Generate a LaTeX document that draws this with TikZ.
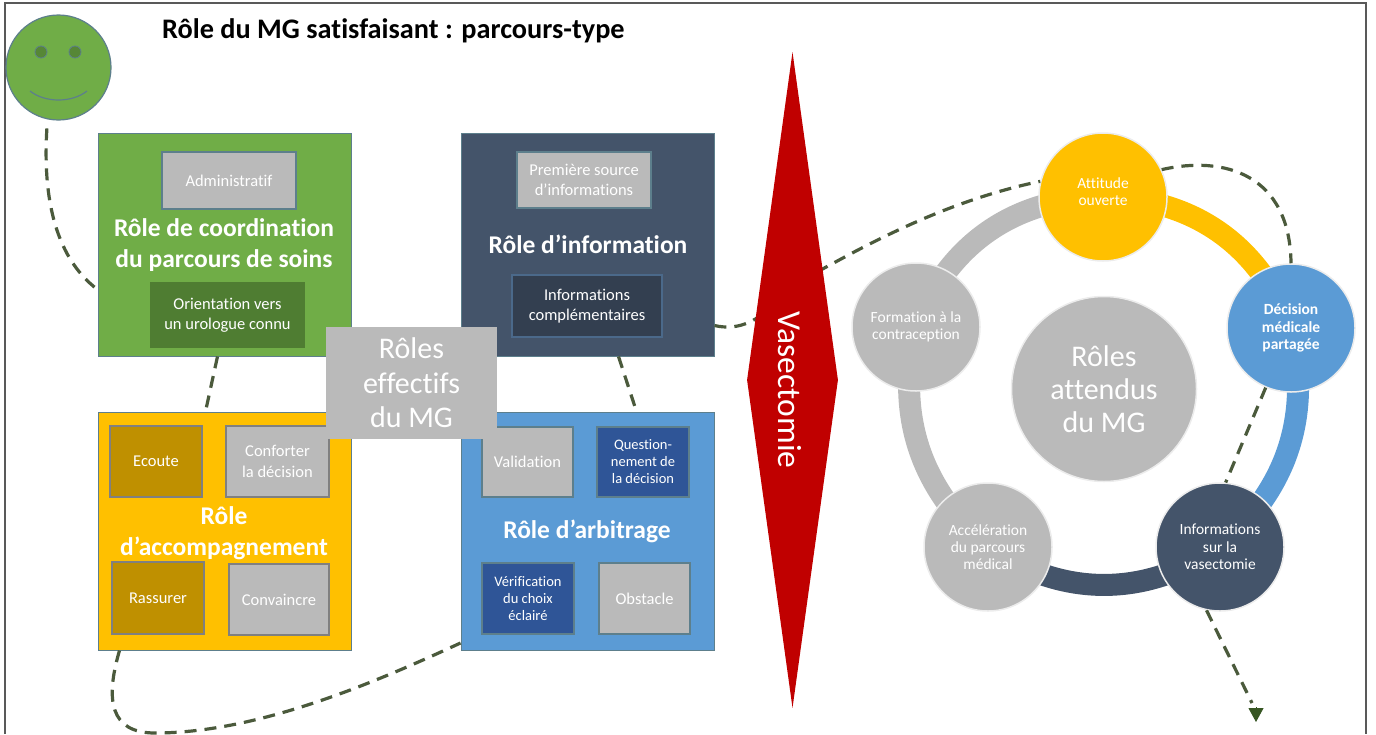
\documentclass[tikz,border=0pt]{standalone}
\usepackage{fontspec}
\setmainfont[RawFeature={-liga}]{Carlito}
\usetikzlibrary{shapes.geometric,arrows.meta,calc,backgrounds}
\definecolor{cgreen}{HTML}{70AD47}
\definecolor{cdgreen}{HTML}{4F7D32}
\definecolor{cnavy}{HTML}{44546A}
\definecolor{cdnavy}{HTML}{333F50}
\definecolor{cyell}{HTML}{FFC000}
\definecolor{cdyell}{HTML}{BF9000}
\definecolor{cblue}{HTML}{5B9BD5}
\definecolor{cdblue}{HTML}{2F5597}
\definecolor{cgrey}{HTML}{BABABA}
\definecolor{cred}{HTML}{C00000}
\definecolor{cdash}{HTML}{4B5A3C}
\definecolor{cedge}{HTML}{5D7F8C}
\definecolor{ctip}{HTML}{375623}
\tikzset{
  x=1pt,y=-1pt,
  base/.style={align=center,inner sep=0pt,text=white,rectangle},
  bigbox/.style={base,draw=cedge,line width=1pt},
  inbox/.style={base,draw=cedge,line width=1.2pt,font=\fontsize{16.5}{20.5}\selectfont},
  smallbox/.style={base,draw=cedge,line width=1.2pt,font=\fontsize{14.5}{17}\selectfont},
  role/.style={inner sep=0pt,align=center,text=white,font=\bfseries\fontsize{25.5}{31}\selectfont},
  disc/.style={circle,inner sep=0pt,minimum size=128pt,draw=white!85!gray,line width=1.5pt,align=center,text=white,font=\fontsize{15.5}{17.3}\selectfont},
  ringarc/.style={line width=22pt},
  link/.style={draw=cdash,line width=3.2pt,dash pattern=on 12pt off 8pt},
}
\newcommand{\rbox}[7]{%
  \pgfmathsetmacro{\bw}{#4-#2}\pgfmathsetmacro{\bh}{#5-#3}%
  \pgfmathsetmacro{\bx}{(#2+#4)/2}\pgfmathsetmacro{\by}{(#3+#5)/2}%
  \node[#6,minimum width=\bw pt,minimum height=\bh pt] (#1) at (\bx,\by) {#7};}
\begin{document}
\begin{tikzpicture}
\useasboundingbox (0,0) rectangle (1376,734);
% frame
\draw[gray!70!black,line width=1.2pt] (5,734) -- (5,3) -- (1366,3) -- (1366,734);
% title
\node[anchor=west,inner sep=0pt,font=\bfseries\fontsize{28.3}{30}\selectfont] (title) at (162,31) {Rôle du MG satisfaisant : parcours-type};
% smiley
\node[circle,minimum size=105pt,inner sep=0pt,fill=cgreen,draw=cedge,line width=1.2pt] (smiley) at (58.5,67.5) {};
\node[circle,minimum size=12pt,inner sep=0pt,fill=cdgreen!80!cgreen,draw=cedge,line width=.8pt] (eyeL) at (41,52) {};
\node[circle,minimum size=12pt,inner sep=0pt,fill=cdgreen!80!cgreen,draw=cedge,line width=.8pt] (eyeR) at (75,52) {};
\draw[cedge,line width=1.2pt] (30,91) .. controls (45,103) and (72,103) .. (87,91);
% big boxes
\rbox{green}{98}{133}{351}{356}{bigbox,fill=cgreen}{}
\rbox{navy}{461}{133}{714}{356}{bigbox,fill=cnavy}{}
\rbox{yellow}{98}{412}{351}{650}{bigbox,fill=cyell}{}
\rbox{blue}{461}{412}{714}{650}{bigbox,fill=cblue}{}
% green content
\rbox{admin}{162}{152}{296}{209}{inbox,fill=cgrey}{Administratif}
\node[role] (tgreen) at (224,245) {Rôle de coordination\\du parcours de soins};
\rbox{orient}{151}{283}{304}{347}{inbox,fill=cdgreen,draw=cdgreen}{Orientation vers\\un urologue connu}
% navy content
\rbox{prem}{517}{152}{651}{208}{inbox,fill=cgrey}{Première source\\d’informations}
\node[role] (tnavy) at (588,244.5) {Rôle d’information};
\rbox{compl}{512}{275}{662}{337}{inbox,fill=cdnavy,draw=cnavy!70!cblue}{Informations\\complémentaires}
% yellow content
\rbox{ecoute}{110}{426}{202}{497}{inbox,fill=cdyell,draw=gray}{Ecoute}
\rbox{conf}{226}{426}{329}{497}{inbox,fill=cgrey,draw=gray}{Conforter\\la décision}
\node[role] (tyellow) at (224,533) {Rôle\\d’accompagnement};
\rbox{rass}{112}{562}{204}{634}{inbox,fill=cdyell,draw=gray}{Rassurer}
\rbox{conv}{229}{564}{329}{635}{inbox,fill=cgrey,draw=gray}{Convaincre}
% blue content
\rbox{valid}{482}{427}{573}{497}{inbox,fill=cgrey}{Validation}
\rbox{quest}{597}{427}{689}{497}{smallbox,fill=cdblue}{Question-\\nement de\\la décision}
\node[role] (tblue) at (587,531) {Rôle d’arbitrage};
\rbox{verif}{482}{563}{574}{634}{smallbox,fill=cdblue}{Vérification\\du choix\\éclairé}
\rbox{obst}{599}{563}{690}{634}{inbox,fill=cgrey}{Obstacle}
% right ring
\node[disc,fill=cyell] (att) at (1103,197) {Attitude\\ouverte\\[-6.3pt]\mbox{}};
\node[disc,fill=cblue,font=\bfseries\fontsize{15.5}{17.3}\selectfont] (dec) at (1291,328) {Décision\\médicale\\partagée};
\node[disc,fill=cnavy] (inf) at (1220,547) {Informations\\sur la\\vasectomie};
\node[disc,fill=cgrey] (acc) at (988,547) {Accélération\\du parcours\\médical};
\node[disc,fill=cgrey] (form) at (916,327) {Formation à la\\contraception};
\node[disc,fill=cgrey,minimum size=185pt,font=\fontsize{30}{33}\selectfont] (mid) at (1104,389) {Rôles\\attendus\\du MG};
\begin{scope}[on background layer]
\draw[ringarc,cgrey] (form.center) to[bend left=34] (att.center);
\draw[ringarc,cyell] (att.center) to[bend left=34] (dec.center);
\draw[ringarc,cblue] (dec.center) to[bend left=31] (inf.center);
\draw[ringarc,cnavy] (inf.center) to[bend left=34] (acc.center);
\draw[ringarc,cgrey] (acc.center) to[bend left=31] (form.center);
\end{scope}
% connectors
\draw[link] (smiley.258) [shorten <=9pt] .. controls (43,190) and (52,255) .. ($(green.west)+(0,45)$);
\draw[link] ($(green.south)+(-7,0)$) -- ($(yellow.north)+(-19,0)$);
\draw[link] ($(navy.south)+(31,0)$) -- ($(blue.north)+(49,0)$);
\draw[link] ($(yellow.south west)+(22,0)$) .. controls (105,700) and (110,733) .. (155,733) .. controls (260,733) and (380,680) .. ($(blue.west)+(0,112)$);
\draw[link] ($(navy.east)+(0,81)$) .. controls (760,336) and (780,290) .. (830,265) .. controls (890,232) and (960,198) .. (att.166);
\draw[link] (att.25) .. controls (1225,155) and (1290,175) .. (dec.north);
\draw[link] (dec.247) -- (inf.85);
\coordinate (tipstart) at (1256,707);
\coordinate (tipend) at (1256,722);
\draw[link] (inf.258) -- (1252,703);
\draw[ctip,line width=1pt,-{Triangle[width=15pt,length=14pt]}] (tipstart) -- (tipend);
% central label and diamond
\rbox{eff}{326}{327}{497}{439}{base,fill=cgrey,font=\fontsize{30}{34.5}\selectfont}{Rôles\\effectifs\\du MG}
\node[diamond,fill=cred,inner sep=0pt,minimum width=91pt,minimum height=656pt] (vas) at (792.5,380) {};
\node[rotate=-90,text=white,inner sep=0pt,font=\fontsize{33.5}{36}\selectfont] (vast) at (790,390) {Vasectomie};
\end{tikzpicture}
\end{document}
